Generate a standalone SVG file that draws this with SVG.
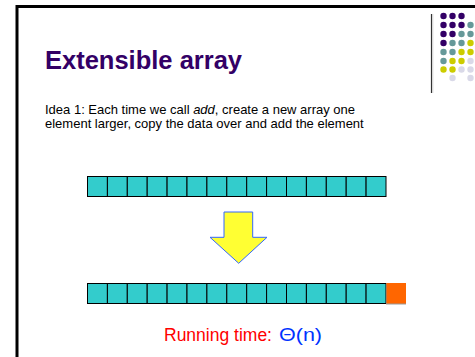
<svg xmlns="http://www.w3.org/2000/svg" width="475" height="357" viewBox="0 0 475 357">
<style>
  text { font-family: "Liberation Sans", Arial, sans-serif; }
  .title { font-size: 25.5px; font-weight: bold; fill: #330066; }
  .body { font-size: 13px; fill: #000; }
  .cell { fill: #33CCCC; stroke: #000; stroke-width: 1; }
  .new { fill: #FF6600; stroke: none; }
  .p { fill: #330066; } .t { fill: #669999; } .y { fill: #CCCC00; } .l { fill: #D9D9E8; }
</style>
<rect width="475" height="357" fill="#fff"/>
<g id="frame">
  <path d="M17,357 V6.5 H475" fill="none" stroke="#000" stroke-width="3"/>
  <line x1="431.5" y1="14" x2="431.5" y2="93" stroke="#333" stroke-width="1.2"/>
  <line x1="432.8" y1="14" x2="432.8" y2="93" stroke="#ccc" stroke-width="0.8"/>
</g>
<g id="dots">
  <circle class="p" cx="443.5" cy="16" r="3.2"/><circle class="p" cx="452.5" cy="16" r="3.2"/><circle class="p" cx="461.5" cy="16" r="3.2"/>
  <circle class="p" cx="443.5" cy="25" r="3.2"/><circle class="p" cx="452.5" cy="25" r="3.2"/><circle class="p" cx="461.5" cy="25" r="3.2"/><circle class="t" cx="470.5" cy="25" r="3.2"/>
  <circle class="p" cx="443.5" cy="34" r="3.2"/><circle class="p" cx="452.5" cy="34" r="3.2"/><circle class="t" cx="461.5" cy="34" r="3.2"/><circle class="t" cx="470.5" cy="34" r="3.2"/>
  <circle class="p" cx="443.5" cy="43" r="3.2"/><circle class="t" cx="452.5" cy="43" r="3.2"/><circle class="t" cx="461.5" cy="43" r="3.2"/><circle class="y" cx="470.5" cy="43" r="3.2"/>
  <circle class="t" cx="443.5" cy="52" r="3.2"/><circle class="t" cx="452.5" cy="52" r="3.2"/><circle class="y" cx="461.5" cy="52" r="3.2"/><circle class="y" cx="470.5" cy="52" r="3.2"/>
  <circle class="t" cx="443.5" cy="61" r="3.2"/><circle class="y" cx="452.5" cy="61" r="3.2"/><circle class="y" cx="461.5" cy="61" r="3.2"/><circle class="l" cx="470.5" cy="61" r="3.2"/>
  <circle class="y" cx="443.5" cy="69.5" r="3.2"/><circle class="y" cx="452.5" cy="69.5" r="3.2"/><circle class="l" cx="461.5" cy="69.5" r="3.2"/><circle class="l" cx="470.5" cy="69.5" r="3.2"/>
  <circle class="l" cx="452.5" cy="78" r="3.2"/><circle class="l" cx="470.5" cy="78" r="3.2"/>
</g>
<g id="title">
  <text class="title" x="45" y="69">Extensible array</text>
</g>
<g id="description">
  <text class="body" x="45" y="114">Idea 1: Each time we call <tspan font-style="italic">add</tspan>, create a new array one</text>
  <text class="body" x="45" y="128">element larger, copy the data over and add the element</text>
</g>
<g id="array-old">
  <rect class="cell" x="87.5" y="176.5" width="19.9" height="20"/>
  <rect class="cell" x="107.4" y="176.5" width="19.9" height="20"/>
  <rect class="cell" x="127.3" y="176.5" width="19.9" height="20"/>
  <rect class="cell" x="147.2" y="176.5" width="19.9" height="20"/>
  <rect class="cell" x="167.1" y="176.5" width="19.9" height="20"/>
  <rect class="cell" x="187" y="176.5" width="19.9" height="20"/>
  <rect class="cell" x="206.9" y="176.5" width="19.9" height="20"/>
  <rect class="cell" x="226.8" y="176.5" width="19.9" height="20"/>
  <rect class="cell" x="246.7" y="176.5" width="19.9" height="20"/>
  <rect class="cell" x="266.6" y="176.5" width="19.9" height="20"/>
  <rect class="cell" x="286.5" y="176.5" width="19.9" height="20"/>
  <rect class="cell" x="306.4" y="176.5" width="19.9" height="20"/>
  <rect class="cell" x="326.3" y="176.5" width="19.9" height="20"/>
  <rect class="cell" x="346.2" y="176.5" width="19.9" height="20"/>
  <rect class="cell" x="366.1" y="176.5" width="19.9" height="20"/>
</g>
<g id="connectors">
  <path d="M224,212 H252.7 V237.3 H267 L238.7,263.3 L210,237.3 H224 Z" fill="#FFFF33" stroke="#3366FF" stroke-width="1"/>
</g>
<g id="array-new">
  <rect class="cell" x="87.5" y="283.5" width="19.9" height="20"/>
  <rect class="cell" x="107.4" y="283.5" width="19.9" height="20"/>
  <rect class="cell" x="127.3" y="283.5" width="19.9" height="20"/>
  <rect class="cell" x="147.2" y="283.5" width="19.9" height="20"/>
  <rect class="cell" x="167.1" y="283.5" width="19.9" height="20"/>
  <rect class="cell" x="187" y="283.5" width="19.9" height="20"/>
  <rect class="cell" x="206.9" y="283.5" width="19.9" height="20"/>
  <rect class="cell" x="226.8" y="283.5" width="19.9" height="20"/>
  <rect class="cell" x="246.7" y="283.5" width="19.9" height="20"/>
  <rect class="cell" x="266.6" y="283.5" width="19.9" height="20"/>
  <rect class="cell" x="286.5" y="283.5" width="19.9" height="20"/>
  <rect class="cell" x="306.4" y="283.5" width="19.9" height="20"/>
  <rect class="cell" x="326.3" y="283.5" width="19.9" height="20"/>
  <rect class="cell" x="346.2" y="283.5" width="19.9" height="20"/>
  <rect class="cell" x="366.1" y="283.5" width="19.9" height="20"/>
  <rect class="new" x="386.5" y="283" width="19.5" height="21"/>
  <line x1="386" y1="304" x2="406" y2="304" stroke="#999" stroke-width="1"/>
</g>
<g id="running-time">
  <text x="164" y="341" font-size="17.5" fill="#FF0000">Running time:</text>
  <text x="279" y="341" font-size="18.5" fill="#0033FF" textLength="43" lengthAdjust="spacingAndGlyphs">Θ(n)</text>
</g>
</svg>
